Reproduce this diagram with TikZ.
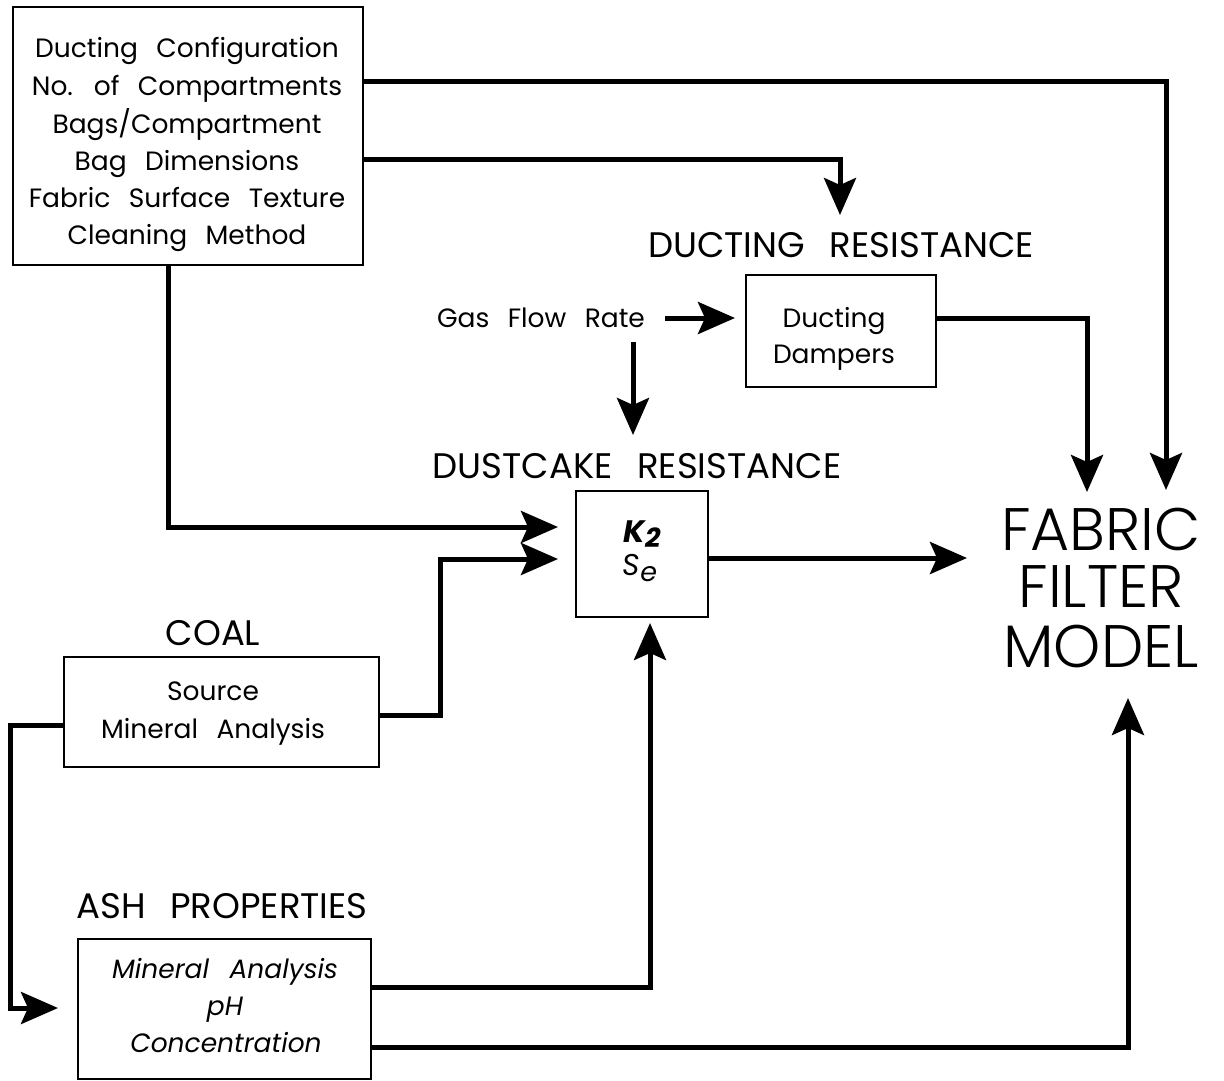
\documentclass[tikz,border=0pt]{standalone}
\usepackage{fontspec}
\setmainfont{Poppins}[WordSpace=2.6]
\newfontfamily\lightfont{Poppins Light}[WordSpace=1.5]
\usetikzlibrary{arrows.meta}
\begin{document}
\begin{tikzpicture}[x=1pt,y=-1pt,
  box/.style={draw, line width=1.3pt, inner sep=0pt},
  txt/.style={inner sep=0pt, anchor=base, font=\fontsize{26.5}{30}\selectfont},
  itxt/.style={inner sep=0pt, anchor=base, font=\fontsize{26.5}{30}\selectfont\itshape},
  hd/.style={inner sep=0pt, anchor=base, font=\fontsize{35.5}{40}\selectfont},
  big/.style={inner sep=0pt, anchor=base, font=\fontsize{60}{70}\lightfont},
  conn/.style={line width=5pt, -{Stealth[length=37pt,width=32pt,inset=7pt]}}
]
\useasboundingbox (0,0) rectangle (1224,1080);

% boxes
\node[box, minimum width=350pt, minimum height=258pt] (cfg) at (188,136) {};
\node[box, minimum width=190pt, minimum height=112pt] (duct) at (841,331) {};
\node[box, minimum width=132pt, minimum height=126pt] (k2box) at (642,554) {};
\node[box, minimum width=315pt, minimum height=110pt] (coal) at (221.5,712) {};
\node[box, minimum width=293pt, minimum height=140pt] (ash) at (224.5,1009) {};

% texts
\node[txt] (c1) at (187,57) {Ducting Configuration};
\node[txt] (c2) at (187,95) {No. of Compartments};
\node[txt] (c3) at (187,133) {Bags/Compartment};
\node[txt] (c4) at (187,170) {Bag Dimensions};
\node[txt] (c5) at (187,207) {Fabric Surface Texture};
\node[txt] (c6) at (187,244) {Cleaning Method};

\node[hd] (ductlbl) at (841,257) {DUCTING RESISTANCE};
\node[txt] (gas) at (541,327) {Gas Flow Rate};
\node[txt] (d1) at (834,327) {Ducting};
\node[txt] (d2) at (834,363) {Dampers};

\node[hd] (dustlbl) at (637,478) {DUSTCAKE RESISTANCE};
\node[txt, font=\fontsize{31}{34}\selectfont] (k2) at (642,542) {\bfseries\itshape K\raisebox{-0.3ex}{\fontsize{27}{27}\selectfont 2}};
\node[txt, font=\fontsize{30}{34}\selectfont] (se) at (640,575) {\itshape S\raisebox{-0.4ex}{\fontsize{27}{27}\selectfont e}};

\node[big] (f1) at (1101,550) {FABRIC};
\node[big] (f2) at (1101,607) {FILTER};
\node[big] (f3) at (1101,667) {MODEL};

\node[hd] (coallbl) at (213,645) {COAL};
\node[txt] (s1) at (213,700) {Source};
\node[txt] (s2) at (213,738) {Mineral Analysis};

\node[hd] (ashlbl) at (222,918) {ASH PROPERTIES};
\node[itxt] (a1) at (225,978) {Mineral Analysis};
\node[itxt] (a2) at (225,1015) {pH};
\node[itxt] (a3) at (226,1052) {Concentration};

% arrow tips
\coordinate (t1) at (1166,490);
\coordinate (t2) at (840,215);
\coordinate (t3) at (1087,492);
\coordinate (t4) at (967,558);
\coordinate (t5) at (650,623);
\coordinate (t6) at (1128,698);
\coordinate (k2in1) at (558,527);
\coordinate (k2in2) at (558,559);
\coordinate (ashin) at (58,1008);
\coordinate (ductin) at (735,318);
\coordinate (gasdown) at (633,435);

% connectors
\draw[conn] (cfg.east |- 0,81) -| (t1);
\draw[conn] (cfg.east |- 0,159) -| (t2);
\draw[conn] (cfg.south -| 168,0) |- (k2in1);
\draw[conn] (coal.east |- 0,715) -| (440,640) |- (k2in2);
\draw[conn] (coal.west |- 0,725) -| (10,900) |- (ashin);
\draw[conn] (665,318) -- (ductin);
\draw[conn] (gasdown |- 0,342) -- (gasdown);
\draw[conn] (duct.east |- 0,318) -| (t3);
\draw[conn] (k2box.east |- 0,558) -- (t4);
\draw[conn] (ash.east |- 0,987) -| (t5);
\draw[conn] (ash.east |- 0,1047) -| (t6);
\end{tikzpicture}
\end{document}
